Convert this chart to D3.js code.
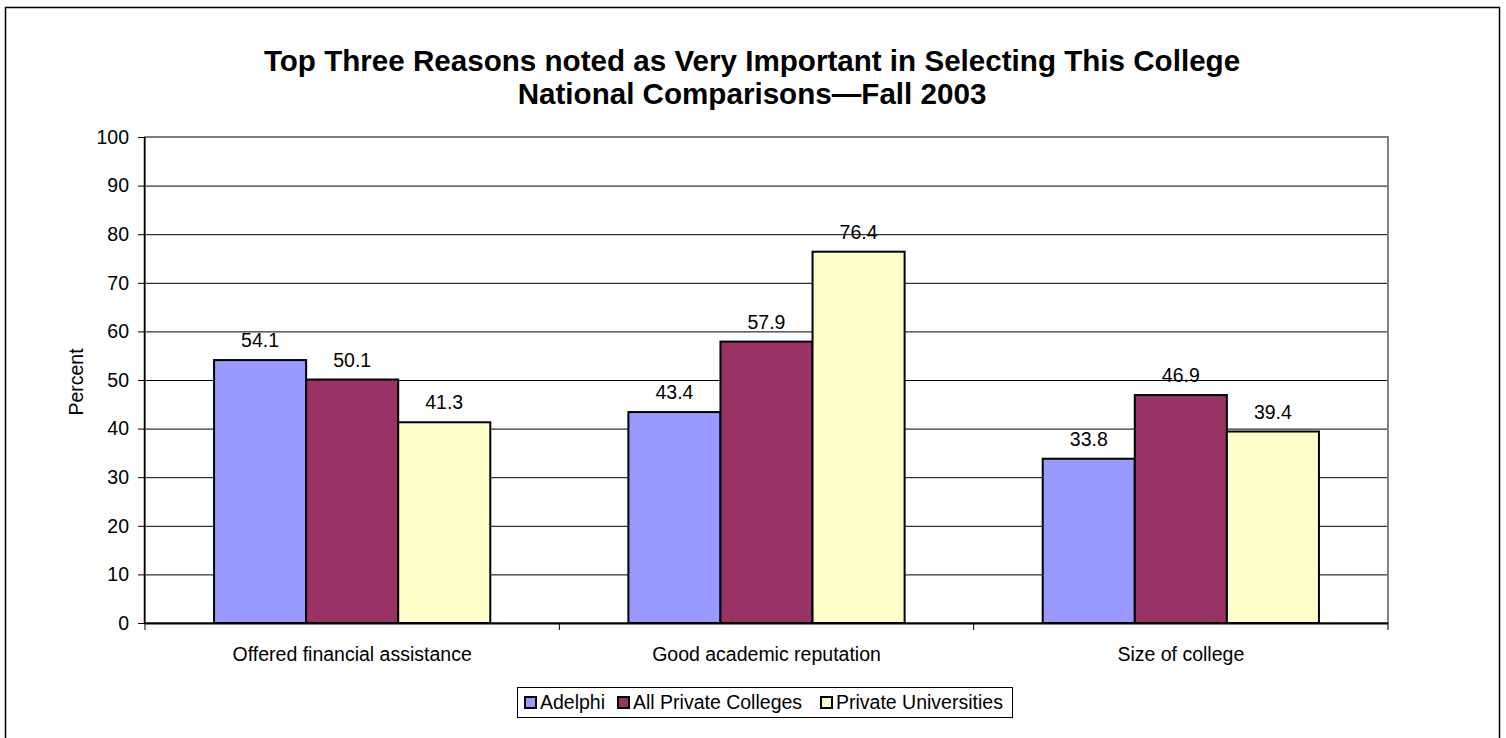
<!DOCTYPE html>
<html><head><meta charset="utf-8">
<script src="https://cdn.jsdelivr.net/npm/d3@7"></script>
<style>body{margin:0;background:#fff}svg{display:block;font-family:Arial,"Liberation Sans",sans-serif}</style>
</head><body><svg id="c" width="1506" height="738"></svg>
<script>
const categories = ["Offered financial assistance","Good academic reputation","Size of college"];
const seriesNames = ["Adelphi","All Private Colleges","Private Universities"];
const adelphi = [54.1, 43.4, 33.8];
const allPrivateColleges = [50.1, 57.9, 46.9];
const privateUniversities = [41.3, 76.4, 39.4];
const yTicks = [0,10,20,30,40,50,60,70,80,90,100];
const colors = ["#9999FF","#993366","#FFFFCC"];
const titleLines = ["Top Three Reasons noted as Very Important in Selecting This College","National Comparisons\u2014Fall 2003"];
const series = [adelphi, allPrivateColleges, privateUniversities];

const FS = 19.5;
const svg = d3.select("#c");
svg.append("rect").attr("x",5.5).attr("y",7.5).attr("width",1494).attr("height",740).attr("fill","#fff").attr("stroke","#000").attr("stroke-width",1.5);

const L=145,R=1388,T=137,B=623;
const x0 = d3.scaleBand().domain(categories).range([L,R]).paddingInner(0).paddingOuter(0);
const innerPad = 1.5/(3+1.5);
const x1 = d3.scaleBand().domain(seriesNames).range([x0.bandwidth()*innerPad/2, x0.bandwidth()*(1-innerPad/2)]);
const y = d3.scaleLinear().domain([0,100]).range([B,T]);

// gridlines
svg.append("g").selectAll("line").data(yTicks.filter(d=>d>0)).join("line")
  .attr("x1",L).attr("x2",R).attr("y1",d=>y(d)+0.5).attr("y2",d=>y(d)+0.5)
  .attr("stroke","#000").attr("stroke-width",1);
// plot border (gray)
svg.append("rect").attr("x",L).attr("y",T).attr("width",R-L).attr("height",B-T)
  .attr("fill","none").attr("stroke","#808080").attr("stroke-width",2);

// bars
const g = svg.append("g");
categories.forEach((c,ci)=>{
  seriesNames.forEach((s,si)=>{
    const v = series[si][ci];
    const bx = x0(c)+x1(s);
    g.append("rect").attr("x",bx).attr("y",y(v)).attr("width",x1.bandwidth()).attr("height",y(0)-y(v))
      .attr("fill",colors[si]).attr("stroke","#000").attr("stroke-width",2);
    g.append("text").attr("x",bx+x1.bandwidth()/2).attr("y",y(v)-13).attr("text-anchor","middle")
      .attr("font-size",FS).attr("fill","#000").text(v.toFixed(1));
  });
});

// y axis
const yAxis = d3.axisLeft(y).tickValues(yTicks).tickSize(7).tickPadding(9);
const ya = svg.append("g").attr("transform",`translate(${L},0)`).call(yAxis);
ya.select(".domain").attr("stroke","#000").attr("stroke-width",1.5).attr("d",`M-0.5,${T}V${B}`);
ya.selectAll(".tick line").attr("stroke","#000");
ya.selectAll("text").attr("font-size",FS).attr("fill","#000").attr("font-family","Arial,'Liberation Sans',sans-serif");

// x axis
const xa = svg.append("g").attr("transform",`translate(0,${B})`);
xa.append("line").attr("x1",L).attr("x2",R).attr("y1",0.5).attr("y2",0.5).attr("stroke","#000").attr("stroke-width",2);
const bounds = categories.map(c=>x0(c)).concat([R]);
xa.selectAll("line.t").data(bounds).join("line").attr("class","t")
  .attr("x1",d=>d).attr("x2",d=>d).attr("y1",0).attr("y2",7).attr("stroke","#000");
xa.selectAll("text").data(categories).join("text")
  .attr("x",d=>x0(d)+x0.bandwidth()/2).attr("y",38).attr("text-anchor","middle")
  .attr("font-size",FS).attr("fill","#000").text(d=>d);

// y label
svg.append("text").attr("transform","translate(83,382) rotate(-90)").attr("text-anchor","middle")
  .attr("font-size",FS).text("Percent");

// title
svg.append("g").selectAll("text").data(titleLines).join("text")
  .attr("x",752).attr("y",(d,i)=>71+i*33).attr("text-anchor","middle")
  .attr("font-size",29.6).attr("font-weight","bold").text(d=>d);

// legend
const lg = svg.append("g");
lg.append("rect").attr("x",517.5).attr("y",687.5).attr("width",495).attr("height",30).attr("fill","#fff").attr("stroke","#000").attr("stroke-width",1);
const lx=[525,618,821];
seriesNames.forEach((s,i)=>{
  lg.append("rect").attr("x",lx[i]).attr("y",697).attr("width",11).attr("height",11).attr("fill",colors[i]).attr("stroke","#000").attr("stroke-width",2);
  lg.append("text").attr("x",lx[i]+15).attr("y",709).attr("font-size",FS).text(s);
});
</script></body></html>
